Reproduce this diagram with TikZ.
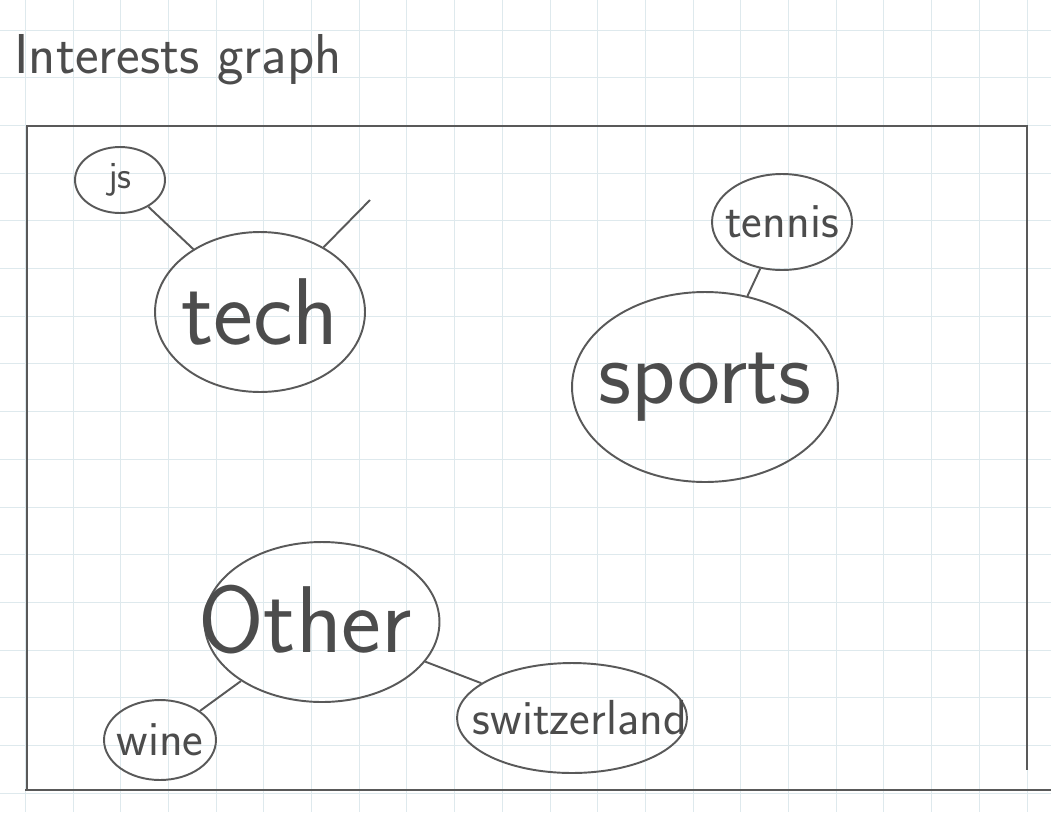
\documentclass[tikz,border=0pt]{standalone}
\usepackage{fontspec}
\usetikzlibrary{shapes.geometric}
\tikzset{
  pencil/.style={draw=black!65, line width=1.1pt},
  topic/.style={ellipse, pencil, inner sep=0pt},
  word/.style={text=black!70, font=\hand{#1}},
  gridline/.style={draw=cyan!30!gray!22, line width=0.5pt}
}
\newcommand{\hand}[1]{\sffamily\fontsize{#1}{#1}\selectfont}
\begin{document}
\begin{tikzpicture}[x=0.02cm,y=-0.02cm]
\useasboundingbox (0,0) rectangle (1051,812);
\fill[white] (0,0) rectangle (1051,812);
% squared paper
\foreach \gx in {25.3,73,...,1051} \draw[gridline] (\gx,0) -- (\gx,812);
\foreach \gy in {30,77.7,...,812} \draw[gridline] (0,\gy) -- (1051,\gy);

\node[word=32] (title) at (178,60) {Interests graph};

% frame
\draw[pencil] (27,790) -- (27,126) -- (1027,126) -- (1027,770);
\draw[pencil] (25,790) -- (1051,790);

% topics
\node[topic, minimum width=1.8cm, minimum height=1.32cm] (js) at (120,180) {};
\node[word=22] (jstext) at (js) {js};
\node[topic, minimum width=4.2cm, minimum height=3.2cm] (tech) at (260,312) {};
\node[word=54] (techtext) at (tech) {tech};
\node[topic, minimum width=2.8cm, minimum height=1.92cm] (tennis) at (782,222) {};
\node[word=28] (tennistext) at (tennis) {tennis};
\node[topic, minimum width=5.32cm, minimum height=3.8cm] (sports) at (705,387) {};
\node[word=52] (sportstext) at (sports) {sports};
\node[topic, minimum width=4.7cm, minimum height=3.2cm] (other) at (322,622) {};
\node[word=54] (othertext) at (305,620) {Other};
\node[topic, minimum width=2.24cm, minimum height=1.6cm] (wine) at (160,740) {};
\node[word=28] (winetext) at (wine) {wine};
\node[topic, minimum width=4.6cm, minimum height=2.2cm] (switz) at (572,718) {};
\node[word=28] (switztext) at (580,718) {switzerland};
\coordinate (techloose) at (370,200);

% links
\draw[pencil] (js) -- (tech);
\draw[pencil] (tech) -- (techloose);
\draw[pencil] (tennis) -- (sports);
\draw[pencil] (other) -- (wine);
\draw[pencil] (other) -- (switz);
\end{tikzpicture}
\end{document}
